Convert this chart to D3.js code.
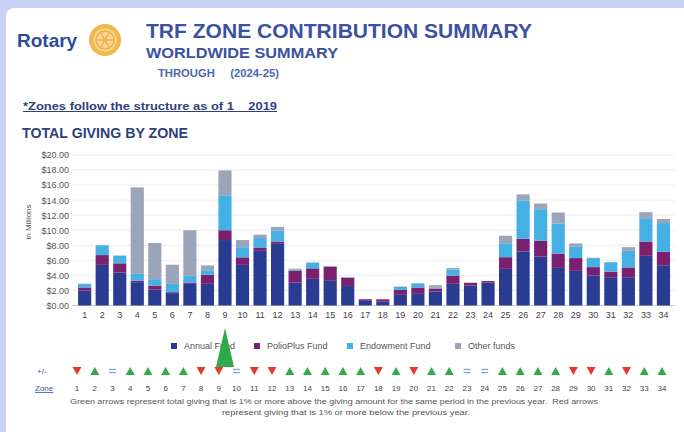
<!DOCTYPE html>
<html>
<head>
<meta charset="utf-8">
<script src="https://cdn.jsdelivr.net/npm/d3@7"></script>
<style>
  body { margin: 0; background: #c8d2f3; }
  svg { display: block; font-family: "Liberation Sans", Arial, sans-serif; }
</style>
</head>
<body>
<script>
// Zones 1..34 and the four fund series (in millions of dollars)
let zones = d3.range(1, 35)
let annualFund = [2.0, 5.4, 4.4, 3.1, 2.1, 1.65, 2.88, 2.88, 8.7, 5.4, 7.26, 8.2, 3.05, 3.54, 3.36, 2.6, 0.62, 0.53, 1.42, 1.64, 1.85, 2.88, 2.65, 3.05, 4.87, 7.17, 6.5, 5.0, 4.6, 4.0, 3.76, 3.76, 6.6, 5.35]
let polioPlusFund = [0.4, 1.3, 1.2, 0.2, 0.55, 0.12, 0.17, 1.2, 1.3, 1.0, 0.45, 0.3, 1.6, 1.4, 1.8, 1.1, 0.22, 0.3, 0.66, 0.75, 0.4, 1.1, 0.35, 0.2, 1.55, 1.7, 2.1, 1.9, 1.7, 1.1, 0.74, 1.3, 1.9, 1.8]
let endowmentFund = [0.45, 1.3, 1.0, 0.9, 0.85, 1.1, 0.9, 0.6, 4.65, 1.35, 1.25, 1.45, 0.1, 0.75, 0.05, 0.0, 0.0, 0.0, 0.4, 0.55, 0.1, 0.8, 0.0, 0.0, 1.85, 5.1, 4.2, 4.0, 1.5, 1.2, 1.25, 2.2, 3.1, 3.8]
let otherFunds = [0.05, 0.05, 0.05, 11.5, 4.8, 2.55, 6.05, 0.65, 3.3, 0.95, 0.45, 0.5, 0.15, 0.05, 0.05, 0.06, 0.04, 0.05, 0.04, 0.02, 0.35, 0.2, 0.05, 0.02, 1.0, 0.8, 0.75, 1.45, 0.45, 0.05, 0.0, 0.5, 0.8, 0.55]
let seriesNames = ["Annual Fund", "PolioPlus Fund", "Endowment Fund", "Other funds"]
let seriesColors = ["#2a3c92", "#7b1f6f", "#45b0e4", "#9ca4b9"]
let yTicks = d3.range(0, 21, 2)
// change vs previous year: "up", "down", "eq"
let trend = ["down","up","eq","up","up","up","up","down","down","eq","down","down","up","up","up","up","up","down","up","down","up","up","eq","eq","up","up","up","up","down","down","up","down","up","up"]

let width = 684, height = 432
let svg = d3.select("body").append("svg")
    .attr("width", width)
    .attr("height", height)

// lavender frame with white card
svg.append("rect").attr("width", width).attr("height", height).attr("fill", "#c8d2f3")
svg.append("rect").attr("x", 6).attr("y", 8).attr("width", 700).attr("height", 460)
    .attr("rx", 8).attr("fill", "#ffffff")

// Rotary logo
svg.append("text").attr("x", 17).attr("y", 47)
    .attr("font-size", 19).attr("font-weight", "bold").attr("fill", "#2f4a9c")
    .text("Rotary")
let logo = svg.append("g").attr("transform", "translate(105,40)")
logo.append("circle").attr("r", 16).attr("fill", "#f1b84f")
logo.append("circle").attr("r", 11.5).attr("fill", "#f8d696")
logo.append("circle").attr("r", 9).attr("fill", "none").attr("stroke", "#f1b84f").attr("stroke-width", 2)
d3.range(6).forEach(i => {
  let a = i * Math.PI / 3
  logo.append("line").attr("x1", 0).attr("y1", 0)
    .attr("x2", 10 * Math.cos(a)).attr("y2", 10 * Math.sin(a))
    .attr("stroke", "#f1b84f").attr("stroke-width", 1.6)
})
logo.append("circle").attr("r", 2.5).attr("fill", "#f1b84f")

// titles
svg.append("text").attr("x", 146).attr("y", 38)
    .attr("font-size", 21).attr("font-weight", "bold").attr("fill", "#3a529f")
    .attr("textLength", 386).attr("lengthAdjust", "spacingAndGlyphs")
    .text("TRF ZONE CONTRIBUTION SUMMARY")
svg.append("text").attr("x", 146).attr("y", 58)
    .attr("font-size", 15.5).attr("font-weight", "bold").attr("fill", "#3a529f")
    .attr("textLength", 192).attr("lengthAdjust", "spacingAndGlyphs")
    .text("WORLDWIDE SUMMARY")
svg.append("text").attr("x", 158).attr("y", 77)
    .attr("font-size", 10).attr("font-weight", "bold").attr("fill", "#4d67ad")
    .attr("xml:space", "preserve")
    .attr("textLength", 121).attr("lengthAdjust", "spacingAndGlyphs")
    .text("THROUGH     (2024-25)")
svg.append("text").attr("x", 23).attr("y", 110)
    .attr("font-size", 10).attr("font-weight", "bold").attr("fill", "#2f3f7c")
    .attr("text-decoration", "underline")
    .attr("textLength", 254).attr("lengthAdjust", "spacingAndGlyphs")
    .attr("xml:space", "preserve")
    .text("*Zones follow the structure as of 1    2019")
svg.append("text").attr("x", 22).attr("y", 138)
    .attr("font-size", 14).attr("font-weight", "bold").attr("fill", "#2f3f7c")
    .attr("textLength", 166).attr("lengthAdjust", "spacingAndGlyphs")
    .text("TOTAL GIVING BY ZONE")

// scales
let x = d3.scaleBand().domain(zones).range([73.7, 674.4]).padding(0.25)
let y = d3.scaleLinear().domain([0, 20]).range([305.5, 155])

// gridlines
svg.append("g").selectAll("line").data(yTicks).enter().append("line")
    .attr("x1", 72).attr("x2", 675)
    .attr("y1", d => y(d)).attr("y2", d => y(d))
    .attr("stroke", d => d === 0 ? "#cfcfcf" : "#ececec")

// y axis
let yAxis = svg.append("g").attr("transform", "translate(69,0)")
    .call(d3.axisLeft(y).tickValues(yTicks).tickSize(0).tickPadding(0)
      .tickFormat(d => "$" + d3.format(".2f")(d)))
yAxis.select(".domain").remove()
yAxis.selectAll("text").attr("font-size", 9).attr("fill", "#555").attr("font-family", "Liberation Sans, Arial, sans-serif")

svg.append("text").attr("transform", "translate(31,222) rotate(-90)")
    .attr("text-anchor", "middle").attr("font-size", 8).attr("fill", "#555")
    .text("in Millions")

// stacked bars
let rows = zones.map((z, i) => ({
  zone: z,
  "Annual Fund": annualFund[i],
  "PolioPlus Fund": polioPlusFund[i],
  "Endowment Fund": endowmentFund[i],
  "Other funds": otherFunds[i]
}))
let stacked = d3.stack().keys(seriesNames)(rows)
svg.append("g").selectAll("g").data(stacked).enter().append("g")
    .attr("fill", (d, i) => seriesColors[i])
  .selectAll("rect").data(d => d).enter().append("rect")
    .attr("x", d => x(d.data.zone))
    .attr("width", x.bandwidth())
    .attr("y", d => y(d[1]))
    .attr("height", d => y(d[0]) - y(d[1]))

// x axis labels
let xAxis = svg.append("g").attr("transform", "translate(0,312)")
    .call(d3.axisBottom(x).tickSize(0).tickPadding(0))
xAxis.select(".domain").remove()
xAxis.selectAll("text").attr("font-size", 9).attr("fill", "#444").attr("dy", "0.71em")
    .attr("font-family", "Liberation Sans, Arial, sans-serif")

// legend
let legendX = [174, 257, 350, 458]
let legend = svg.append("g").selectAll("g").data(seriesNames).enter().append("g")
    .attr("transform", (d, i) => `translate(${legendX[i]},346)`)
legend.append("rect").attr("x", -3).attr("y", -3).attr("width", 6).attr("height", 6)
    .attr("fill", (d, i) => seriesColors[i])
legend.append("text").attr("x", 10).attr("y", 3).attr("font-size", 9).attr("fill", "#555")
    .text(d => d)

// big green pointer
svg.append("path").attr("d", "M225,328 L234,367 L216,367 Z").attr("fill", "#2faa4b")

// trend row
let xz = d3.scalePoint().domain(zones).range([77, 662])
svg.append("text").attr("x", 37).attr("y", 374).attr("font-size", 8).attr("fill", "#3a529f")
    .text("+/-")
svg.append("text").attr("x", 35).attr("y", 391).attr("font-size", 8).attr("fill", "#3a529f")
    .attr("text-decoration", "underline").text("Zone")

let marks = svg.append("g").selectAll("g").data(trend).enter().append("g")
    .attr("transform", (d, i) => `translate(${xz(zones[i])},371)`)
marks.filter(d => d === "up").append("path")
    .attr("d", "M0,-4 L4.5,4 L-4.5,4 Z").attr("fill", "#38a94a")
marks.filter(d => d === "down").append("path")
    .attr("d", "M-4.5,-4 L4.5,-4 L0,4 Z").attr("fill", "#e23b2c")
let eq = marks.filter(d => d === "eq")
eq.append("rect").attr("x", -3.5).attr("y", -2.2).attr("width", 7).attr("height", 1.3).attr("fill", "#7fa6dc")
eq.append("rect").attr("x", -3.5).attr("y", 0.9).attr("width", 7).attr("height", 1.3).attr("fill", "#7fa6dc")

svg.append("g").selectAll("text").data(zones).enter().append("text")
    .attr("x", d => xz(d)).attr("y", 391)
    .attr("text-anchor", "middle").attr("font-size", 8).attr("fill", "#444")
    .text(d => d)

// footnote
svg.append("text").attr("x", 70).attr("y", 404)
    .attr("font-size", 7.5).attr("fill", "#555")
    .attr("textLength", 528).attr("lengthAdjust", "spacingAndGlyphs")
    .attr("xml:space", "preserve")
    .text("Green arrows represent total giving that is 1% or more above the giving amount for the same period in the previous year.  Red arrows")
svg.append("text").attr("x", 222).attr("y", 415)
    .attr("font-size", 7.5).attr("fill", "#555")
    .attr("textLength", 248).attr("lengthAdjust", "spacingAndGlyphs")
    .text("represent giving that is 1% or more below the previous year.")
</script>
</body>
</html>
